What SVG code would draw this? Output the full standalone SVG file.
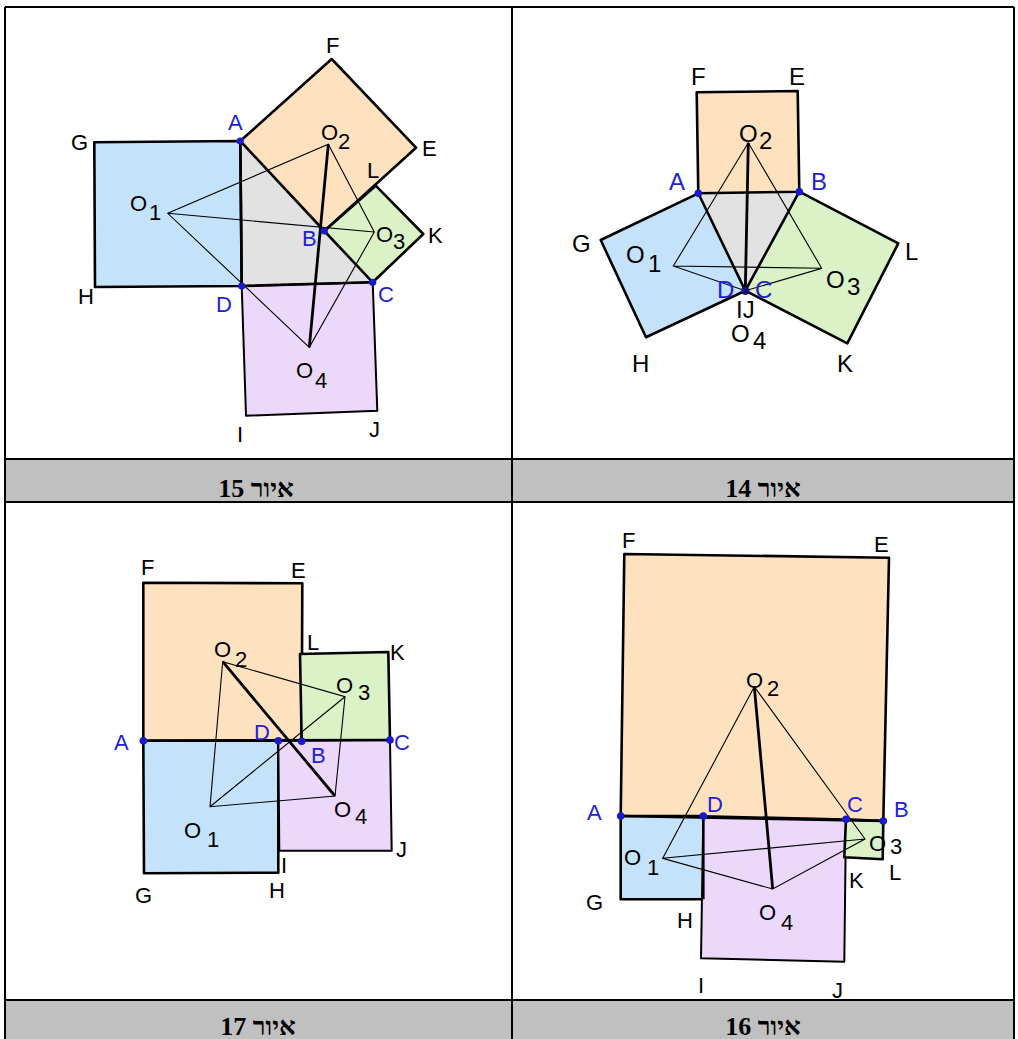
<svg xmlns="http://www.w3.org/2000/svg" width="1018" height="1039" viewBox="0 0 1018 1039">
<style>
.sq{stroke:#000;stroke-width:2.6;stroke-linejoin:round}
.sqp{stroke:#000;stroke-width:2;stroke-linejoin:round}
.blue{fill:#c4e3fa}.orange{fill:#fee2c0}.green{fill:#daf2c6}.purple{fill:#ecd8fa}.gray{fill:#e2e2e2}
.thin{stroke:#000;stroke-width:1.1;fill:none}
.thick{stroke:#000;stroke-width:2.8;fill:none}
.pt{fill:#1a1acb}
.lb{font-family:"Liberation Sans",Arial,sans-serif;font-size:22px;fill:#000}
.lb14{font-size:24px}
.bl{fill:#2222d2}
.cap{font-family:"Liberation Serif","Times New Roman",serif;font-weight:bold;font-size:26px;fill:#000}
.grid{stroke:#000;stroke-width:2;fill:none}
</style>
<rect width="1018" height="1039" fill="#fff"/>
<g id="table">
<rect x="5" y="459" width="1009" height="43" fill="#c0c0c0"/>
<rect x="5" y="1000" width="1009" height="39" fill="#c0c0c0"/>
<path class="grid" d="M5,7H1014M5,459H1014M5,502H1014M5,1000H1014M5,7V1039M512,7V1039M1014,7V1039"/>
<text class="cap" x="256" y="497" text-anchor="middle" direction="rtl">איור 15</text>
<text class="cap" x="763" y="497" text-anchor="middle" direction="rtl">איור 14</text>
<text class="cap" x="258" y="1035" text-anchor="middle" direction="rtl">איור 17</text>
<text class="cap" x="763" y="1035" text-anchor="middle" direction="rtl">איור 16</text>
</g>

<!-- Figure 15 -->
<g id="fig15">
<g id="f15-squares">
<polygon class="gray" points="240.3,141 324.3,231 372.7,282.3 241.7,286"/>
<polygon class="sq blue" points="240.3,141 94.3,142.3 95,287 241.7,286"/>
<polygon class="sq orange" points="240.3,141 331.7,59 416,147.7 324.3,231"/>
<polygon class="sq green" points="324.3,231 375.7,185.7 423.3,234 372.7,282.3"/>
<polygon class="sqp purple" points="241.7,286 372.7,282.3 377.3,410.7 246,415.7"/>
<path class="sq" d="M240.3,141L241.7,286L372.7,282.3" fill="none"/>
</g>
<g id="f15-connectors">
<path class="thin" d="M167.7,213.3L328.3,144.3L374.3,232L309.3,347.3ZM167.7,213.3L374.3,232"/>
<path class="thick" d="M328.3,144.3L309.3,347.3"/>
</g>
<g id="f15-points">
<circle class="pt" cx="240.3" cy="141" r="3.6"/>
<circle class="pt" cx="324.3" cy="231" r="3.6"/>
<circle class="pt" cx="372.7" cy="282.3" r="3.6"/>
<circle class="pt" cx="241.7" cy="286" r="3.6"/>
</g>
<g id="f15-labels" class="lb">
<text x="326" y="53">F</text>
<text class="bl" x="228" y="130">A</text>
<text x="71" y="150">G</text>
<text><tspan x="321" y="140">O</tspan><tspan x="338" y="149">2</tspan></text>
<text x="422" y="156">E</text>
<text x="367" y="178">L</text>
<text><tspan x="130" y="211">O</tspan><tspan x="149" y="220">1</tspan></text>
<text class="bl" x="302" y="246">B</text>
<text><tspan x="376" y="242">O</tspan><tspan x="393" y="249">3</tspan></text>
<text x="428" y="243">K</text>
<text x="78" y="304">H</text>
<text class="bl" x="216" y="312">D</text>
<text class="bl" x="378" y="302">C</text>
<text><tspan x="296" y="378">O</tspan><tspan x="315" y="388">4</tspan></text>
<text x="237" y="442">I</text>
<text x="369" y="437">J</text>
</g>
</g>

<!-- Figure 14 -->
<g id="fig14">
<g id="f14-squares">
<polygon class="gray" points="698.3,193.3 799.3,191.7 745.3,290.7"/>
<polygon class="sq orange" points="698.3,193.3 696.7,92.3 797.7,91 799.3,191.7"/>
<polygon class="sq blue" points="698.3,193.3 600.7,240 646,337.3 745.3,290.7"/>
<polygon class="sq green" points="799.3,191.7 898.3,243.3 847.3,343.3 745.3,290.7"/>
</g>
<g id="f14-connectors">
<path class="thin" d="M673.3,266L748.3,142.7L821.7,268.3L745.3,290.7ZM673.3,266L821.7,268.3"/>
<path class="thick" d="M748.3,142.7L745.3,290.7"/>
</g>
<g id="f14-points">
<circle class="pt" cx="698.3" cy="193.3" r="3.8"/>
<circle class="pt" cx="799.3" cy="191.7" r="3.8"/>
<circle cx="745.3" cy="290.7" r="4.2" fill="#12127a"/>
</g>
<g id="f14-labels" class="lb lb14">
<text x="691" y="85">F</text>
<text x="789" y="85">E</text>
<text><tspan x="739" y="142">O</tspan><tspan x="759" y="149">2</tspan></text>
<text class="bl" x="669" y="190">A</text>
<text class="bl" x="811" y="190">B</text>
<text x="572" y="252">G</text>
<text><tspan x="626" y="263">O</tspan><tspan x="648" y="272">1</tspan></text>
<text x="905" y="260">L</text>
<text><tspan x="826" y="288">O</tspan><tspan x="847" y="295">3</tspan></text>
<text class="bl" x="717" y="298">D</text>
<text class="bl" x="755" y="298">C</text>
<text x="736" y="318">IJ</text>
<text><tspan x="731" y="342">O</tspan><tspan x="753" y="349">4</tspan></text>
<text x="632" y="372">H</text>
<text x="837" y="372">K</text>
</g>
</g>

<!-- Figure 17 -->
<g id="fig17">
<g id="f17-squares">
<polygon class="sq orange" points="143.3,740.7 143.3,582.7 302.3,583.3 301.7,741.3"/>
<polygon class="sq green" points="301.7,741.3 300,654 388.3,652 390,740"/>
<polygon class="sq blue" points="143.3,740.7 278.3,740.7 278.3,872.7 144,873.3"/>
<polygon class="sqp purple" points="278.3,740.7 390,740 391.7,850.7 279.3,850.7"/>
<path class="sq" d="M143.3,740.7L390,740" fill="none"/>
</g>
<g id="f17-connectors">
<path class="thin" d="M210,806.7L222.7,661.7L345,696.7L335,796ZM210,806.7L345,696.7"/>
<path class="thick" d="M222.7,661.7L335,796"/>
</g>
<g id="f17-points">
<circle class="pt" cx="143.3" cy="740.7" r="3.8"/>
<circle class="pt" cx="278.3" cy="740.7" r="3.8"/>
<circle class="pt" cx="301.7" cy="741.3" r="3.8"/>
<circle class="pt" cx="390" cy="740" r="3.8"/>
</g>
<g id="f17-labels" class="lb">
<text x="141" y="575">F</text>
<text x="291" y="578">E</text>
<text x="307" y="650">L</text>
<text x="390" y="660">K</text>
<text><tspan x="214" y="657">O</tspan><tspan x="235" y="667">2</tspan></text>
<text><tspan x="336" y="693">O</tspan><tspan x="358" y="700">3</tspan></text>
<text class="bl" x="114" y="750">A</text>
<text class="bl" x="254" y="740">D</text>
<text class="bl" x="311" y="763">B</text>
<text class="bl" x="394" y="750">C</text>
<text><tspan x="334" y="817">O</tspan><tspan x="355" y="824">4</tspan></text>
<text><tspan x="184" y="838">O</tspan><tspan x="207" y="847">1</tspan></text>
<text x="396" y="857">J</text>
<text x="281" y="873">I</text>
<text x="135" y="903">G</text>
<text x="269" y="898">H</text>
</g>
</g>

<!-- Figure 16 -->
<g id="fig16">
<g id="f16-squares">
<polygon class="sq orange" points="620.7,816 624.3,554 889,557.7 883.3,821"/>
<polygon class="sq blue" points="620.7,816 703.3,816 703.3,899.3 620.7,899.3"/>
<polygon class="sqp purple" points="703.3,816 846,819.3 844.3,961.7 701,958.3"/>
<polygon class="sq green" points="846,819.3 883.3,821 882.7,859.3 844.3,857.3"/>
<path class="sq" d="M620.7,816L883.3,821M703.3,816L703.3,899.3" fill="none"/>
</g>
<g id="f16-connectors">
<path class="thin" d="M662.7,858.3L754.3,686.7L865,839L772.7,889ZM662.7,858.3L865,839"/>
<path class="thick" d="M754.3,686.7L772.7,889"/>
</g>
<g id="f16-points">
<circle class="pt" cx="620.7" cy="816" r="3.8"/>
<circle class="pt" cx="703.3" cy="816" r="3.8"/>
<circle class="pt" cx="846" cy="819.3" r="3.8"/>
<circle class="pt" cx="883.3" cy="821" r="3.8"/>
</g>
<g id="f16-labels" class="lb">
<text x="622" y="548">F</text>
<text x="874" y="552">E</text>
<text><tspan x="746" y="688">O</tspan><tspan x="767" y="696">2</tspan></text>
<text class="bl" x="587" y="820">A</text>
<text class="bl" x="707" y="812">D</text>
<text class="bl" x="847" y="812">C</text>
<text class="bl" x="894" y="817">B</text>
<text><tspan x="624" y="865">O</tspan><tspan x="647" y="875">1</tspan></text>
<text><tspan x="869" y="851">O</tspan><tspan x="890" y="854">3</tspan></text>
<text x="889" y="880">L</text>
<text x="849" y="888">K</text>
<text x="586" y="910">G</text>
<text x="677" y="928">H</text>
<text><tspan x="759" y="920">O</tspan><tspan x="781" y="930">4</tspan></text>
<text x="698" y="993">I</text>
<text x="832" y="998">J</text>
</g>
</g>
</svg>
